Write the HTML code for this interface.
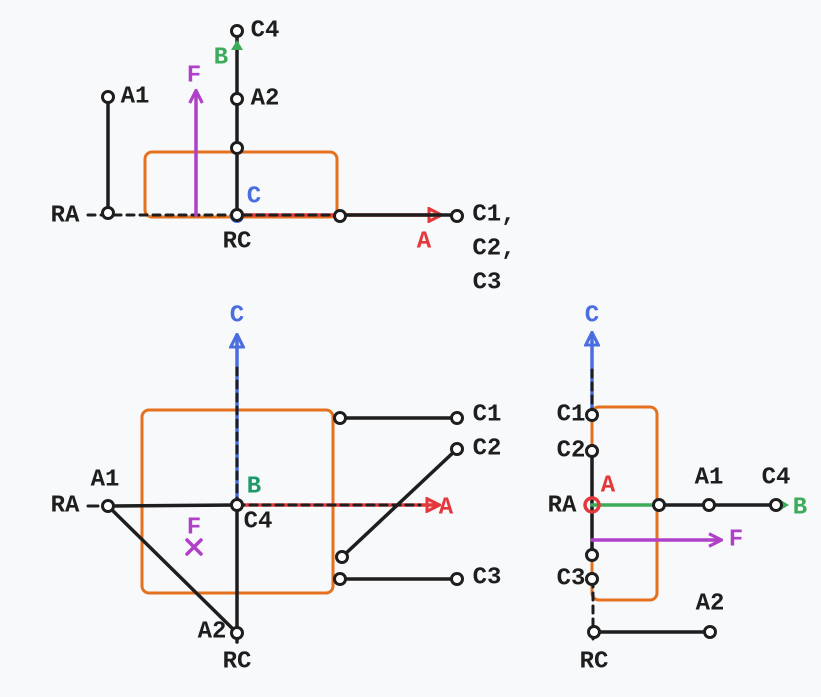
<!DOCTYPE html>
<html><head><meta charset="utf-8"><style>
html,body{margin:0;padding:0;background:#f8f9fb;}
svg{display:block}
text{font-family:"Liberation Mono",monospace;font-size:24px;font-weight:bold;dominant-baseline:central;text-anchor:middle}
</style></head><body>
<svg width="821" height="697" viewBox="0 0 821 697" xmlns="http://www.w3.org/2000/svg">
<defs>
<marker id="ar" viewBox="0 0 10 10" refX="8" refY="5" markerWidth="4.5" markerHeight="4.5" orient="auto"><path d="M1,1 L9,5 L1,9 Z" fill="none" stroke="#e5383b" stroke-width="2"/></marker>
<marker id="ab" viewBox="0 0 10 10" refX="8" refY="5" markerWidth="4.5" markerHeight="4.5" orient="auto"><path d="M1,1 L9,5 L1,9 Z" fill="none" stroke="#4a6ee0" stroke-width="2"/></marker>
<marker id="ap" viewBox="0 0 10 10" refX="8" refY="5" markerWidth="4.5" markerHeight="4.5" orient="auto"><path d="M1,1 L9,5 L1,9" fill="none" stroke="#b040c8" stroke-width="2"/></marker>
</defs>
<g fill="none" stroke-linecap="round">
<!-- top -->
<rect x="145" y="152" width="192" height="65" rx="7" stroke="#e5711e" stroke-width="3"/>
<line x1="237" y1="215" x2="340" y2="215" stroke="#e5383b" stroke-width="3.5"/>
<line x1="88" y1="215" x2="340" y2="215" stroke="#1e1e1e" stroke-width="3" stroke-dasharray="7 6"/>
<line x1="108" y1="97" x2="108" y2="213" stroke="#1e1e1e" stroke-width="3.5"/>
<line x1="196" y1="215" x2="196" y2="92" stroke="#b040c8" stroke-width="3.5" marker-end="url(#ap)"/>
<line x1="237" y1="215" x2="237" y2="31" stroke="#1e1e1e" stroke-width="3.5"/>
<path d="M231,50 L237,40 L243,50 Z" fill="#3cac5a" stroke="none"/>
<circle cx="237" cy="216" r="7" fill="#4a6ee0" stroke="none"/>
<line x1="340" y1="215" x2="440" y2="215" stroke="#e5383b" stroke-width="3.5" marker-end="url(#ar)"/>
<line x1="340" y1="215" x2="457" y2="215" stroke="#1e1e1e" stroke-width="3.5"/>
<!-- bottom left -->
<rect x="142" y="410" width="191" height="183" rx="7" stroke="#e5711e" stroke-width="3"/>
<line x1="237" y1="505" x2="237" y2="336" stroke="#4a6ee0" stroke-width="3.5" marker-end="url(#ab)"/>
<line x1="237" y1="505" x2="237" y2="368" stroke="#1e1e1e" stroke-width="3" stroke-dasharray="7 6"/>
<line x1="237" y1="505" x2="438" y2="505" stroke="#e5383b" stroke-width="3.5" marker-end="url(#ar)"/>
<line x1="237" y1="505" x2="420" y2="505" stroke="#1e1e1e" stroke-width="3" stroke-dasharray="7 6"/>
<line x1="88" y1="506" x2="98" y2="506" stroke="#1e1e1e" stroke-width="3"/>
<line x1="108" y1="506" x2="237" y2="505" stroke="#1e1e1e" stroke-width="3.5"/>
<line x1="108" y1="506" x2="237" y2="633" stroke="#1e1e1e" stroke-width="3.5"/>
<line x1="237" y1="505" x2="237" y2="642" stroke="#1e1e1e" stroke-width="3.5"/>
<line x1="340" y1="418" x2="457" y2="418" stroke="#1e1e1e" stroke-width="3.5"/>
<line x1="342" y1="557" x2="457" y2="449" stroke="#1e1e1e" stroke-width="3.5"/>
<line x1="340" y1="579" x2="457" y2="579" stroke="#1e1e1e" stroke-width="3.5"/>
<path d="M187,540 L201,554 M201,540 L187,554" stroke="#b040c8" stroke-width="3.5"/>
<!-- bottom right -->
<rect x="592" y="407" width="65" height="193" rx="7" stroke="#e5711e" stroke-width="3"/>
<line x1="592" y1="420" x2="592" y2="334" stroke="#4a6ee0" stroke-width="3.5" marker-end="url(#ab)"/>
<line x1="592" y1="370" x2="592" y2="410" stroke="#1e1e1e" stroke-width="3" stroke-dasharray="7 6"/>
<line x1="592" y1="451" x2="592" y2="555" stroke="#1e1e1e" stroke-width="3.5"/>
<line x1="593" y1="580" x2="593" y2="642" stroke="#1e1e1e" stroke-width="3" stroke-dasharray="7 6"/>
<line x1="594" y1="632" x2="710" y2="632" stroke="#1e1e1e" stroke-width="3.5"/>
<line x1="592" y1="505" x2="659" y2="505" stroke="#3cac5a" stroke-width="3.5"/>
<line x1="659" y1="505" x2="776" y2="505" stroke="#1e1e1e" stroke-width="3.5"/>
<path d="M779,499 L789,505 L779,511 Z" fill="#3cac5a" stroke="none"/>
<line x1="592" y1="540" x2="720" y2="540" stroke="#b040c8" stroke-width="3.5" marker-end="url(#ap)"/>
<circle cx="592" cy="505" r="7" stroke="#e5383b" stroke-width="3.5"/>
</g>
<g fill="#fff" stroke="#1e1e1e" stroke-width="3">
<circle cx="108" cy="97" r="5.5"/><circle cx="108" cy="213" r="5.5"/>
<circle cx="237" cy="31" r="5.5"/><circle cx="237" cy="99" r="5.5"/><circle cx="237" cy="148" r="5.5"/><circle cx="237" cy="215" r="5.5"/>
<circle cx="340" cy="216" r="5.5"/><circle cx="457" cy="216" r="5.5"/>
<circle cx="108" cy="506" r="5.5"/><circle cx="237" cy="505" r="5.5"/><circle cx="237" cy="633" r="5.5"/>
<circle cx="340" cy="418" r="5.5"/><circle cx="457" cy="418" r="5.5"/>
<circle cx="342" cy="557" r="5.5"/><circle cx="457" cy="449" r="5.5"/>
<circle cx="340" cy="579" r="5.5"/><circle cx="457" cy="579" r="5.5"/>
<circle cx="592" cy="415" r="5.5"/><circle cx="592" cy="451" r="5.5"/><circle cx="592" cy="555" r="5.5"/><circle cx="592" cy="579" r="5.5"/>
<circle cx="594" cy="632" r="5.5"/><circle cx="710" cy="632" r="5.5"/>
<circle cx="659" cy="505" r="5.5"/><circle cx="709" cy="505" r="5.5"/><circle cx="776" cy="505" r="5.5"/>
</g>
<g fill="#1e1e1e">
<text x="65" y="216">RA</text><text x="135" y="97">A1</text><text x="265" y="31">C4</text><text x="265" y="99">A2</text>
<text x="237" y="242">RC</text><text x="494" y="215">C1,</text><text x="494" y="249">C2,</text><text x="487" y="283">C3</text>
<text x="65" y="506">RA</text><text x="105" y="480">A1</text><text x="258" y="522">C4</text><text x="212" y="632">A2</text><text x="237" y="662">RC</text>
<text x="487" y="415">C1</text><text x="487" y="449">C2</text><text x="487" y="578">C3</text>
<text x="562" y="506">RA</text><text x="571" y="415">C1</text><text x="571" y="451">C2</text><text x="571" y="579">C3</text>
<text x="709" y="478">A1</text><text x="776" y="478">C4</text><text x="710" y="604">A2</text><text x="594" y="662">RC</text>
</g>
<text x="221" y="58" fill="#3cac5a">B</text>
<text x="194" y="76" fill="#b040c8">F</text>
<text x="254" y="197" fill="#4a6ee0">C</text>
<text x="424" y="242" fill="#e5383b">A</text>
<text x="237" y="316" fill="#4a6ee0">C</text>
<text x="446" y="508" fill="#e5383b">A</text>
<text x="254" y="487" fill="#1e9a6a">B</text>
<text x="194" y="528" fill="#b040c8">F</text>
<text x="592" y="316" fill="#4a6ee0">C</text>
<text x="608" y="486" fill="#e5383b">A</text>
<text x="800" y="508" fill="#3cac5a">B</text>
<text x="736" y="540" fill="#b040c8">F</text>
</svg>
</body></html>
